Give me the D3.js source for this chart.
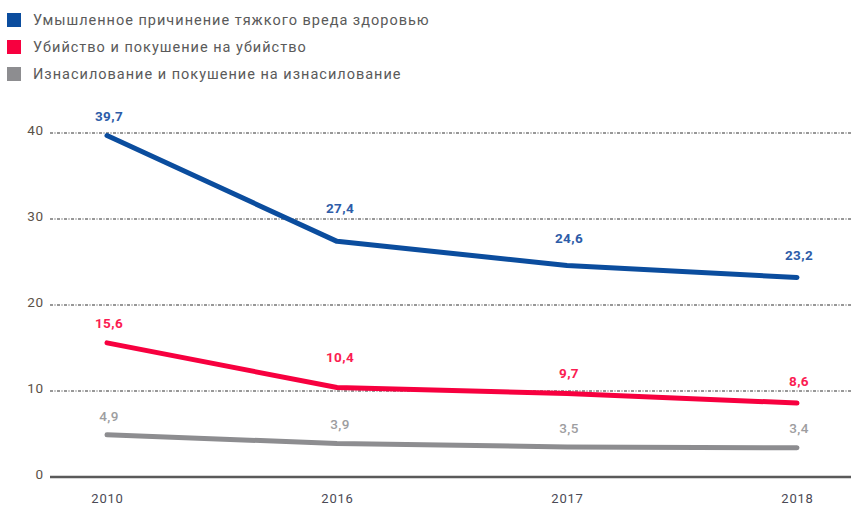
<!DOCTYPE html>
<html><head><meta charset="utf-8">
<script src="https://cdn.jsdelivr.net/npm/d3@7"></script>
<style>body{margin:0;background:#fff}svg{display:block}</style>
</head><body>
<script>
const years = ["2010", "2016", "2017", "2018"];
const seriesNames = [
  "Умышленное причинение тяжкого вреда здоровью",
  "Убийство и покушение на убийство",
  "Изнасилование и покушение на изнасилование"
];
const seriesColors = ["#0b4d9e", "#f7003f", "#8d8d90"];
const labelColors = ["#2d5ca8", "#fb1c52", "#9d9da0"];
const grave = [39.7, 27.4, 24.6, 23.2];
const murder = [15.6, 10.4, 9.7, 8.6];
const rape = [4.9, 3.9, 3.5, 3.4];
const yTicks = [0, 10, 20, 30, 40];
const series = [grave, murder, rape];
const labelLift = [[19, 33, 27, 22], [20, 30, 20, 22], [19, 19, 19, 19]];

const W = 851, H = 507;
const svg = d3.select("body").append("svg").attr("width", W).attr("height", H);
const font = "Roboto, 'DejaVu Sans', sans-serif";

const x = d3.scalePoint().domain(years).range([107, 797]);
const y = d3.scaleLinear().domain([0, 40]).range([477, 133]);

// legend
seriesNames.forEach((n, i) => {
  const g = svg.append("g").attr("transform", `translate(0,${20 + i * 27})`);
  g.append("rect").attr("x", 7).attr("y", -7).attr("width", 14).attr("height", 14).attr("fill", seriesColors[i]);
  g.append("text").attr("x", 33).attr("y", 5).attr("font-family", font).attr("font-size", 14.5)
    .attr("letter-spacing", 1.0).attr("fill", "#5a5a5a").text(n);
});

// grid
const yAxis = d3.axisLeft(y).tickValues(yTicks).tickSize(0).tickPadding(0).tickFormat(d3.format("d"));
const ga = svg.append("g").attr("transform", "translate(44,0)").call(yAxis);
ga.select(".domain").remove();
ga.selectAll("text").attr("font-family", font).attr("font-size", 13.5).attr("letter-spacing", 0.8)
  .attr("fill", "#5b5148").attr("dy", "0.1em");

svg.append("g").selectAll("line").data(yTicks.filter(d => d > 0)).join("line")
  .attr("x1", 50).attr("x2", W).attr("y1", d => y(d)).attr("y2", d => y(d))
  .attr("stroke", "#333").attr("stroke-width", 1.1).attr("stroke-dasharray", "3,1.5,1,1.5");
svg.append("line").attr("x1", 50).attr("x2", W).attr("y1", y(0)).attr("y2", y(0))
  .attr("stroke", "#5a5a5a").attr("stroke-width", 2.5);

// x axis
const xAxis = d3.axisBottom(x).tickSize(0).tickPadding(0);
const gx = svg.append("g").attr("transform", `translate(0,${y(0) + 17})`).call(xAxis);
gx.select(".domain").remove();
gx.selectAll("text").attr("font-family", font).attr("font-size", 13).attr("letter-spacing", 0.8)
  .attr("font-weight", 400).attr("fill", "#4a4a55");

// lines
const line = d3.line().x((d, i) => x(years[i])).y(d => y(d));
series.forEach((s, k) => {
  svg.append("path").datum(s).attr("d", line).attr("fill", "none")
    .attr("stroke", seriesColors[k]).attr("stroke-width", 5)
    .attr("stroke-linecap", "round").attr("stroke-linejoin", "round");
  svg.append("g").selectAll("text").data(s).join("text")
    .attr("x", (d, i) => x(years[i]) + (i === 1 ? 3 : 2))
    .attr("y", (d, i) => y(d) - labelLift[k][i])
    .attr("dy", "0.35em").attr("text-anchor", "middle")
    .attr("font-family", font).attr("font-size", 13.5).attr("letter-spacing", 0.4)
    .attr("font-weight", k === 2 ? 500 : 700)
    .attr("fill", labelColors[k])
    .text(d => String(d).replace(".", ","));
});
</script>
</body></html>
